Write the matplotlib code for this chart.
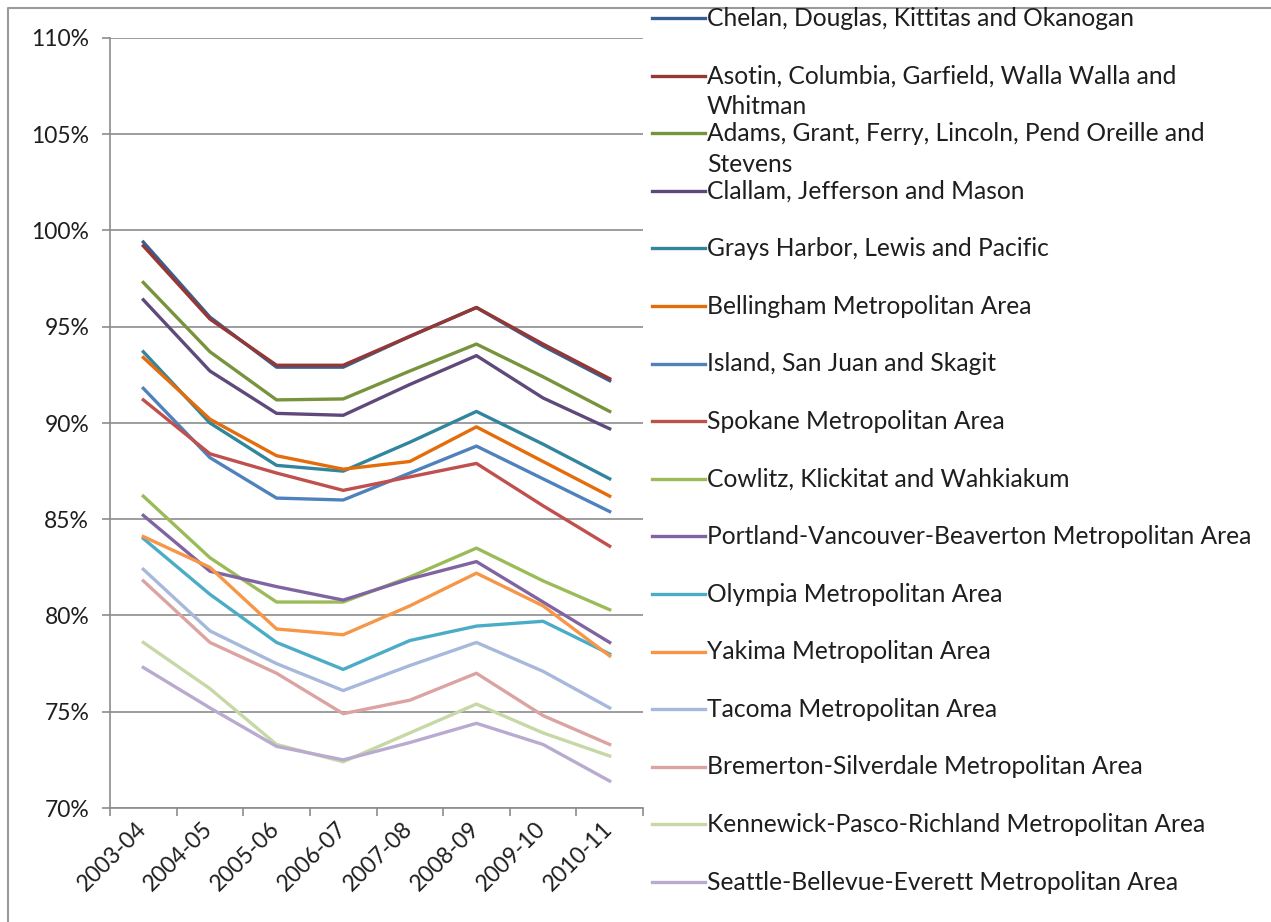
import matplotlib
matplotlib.use("Agg")
import matplotlib.pyplot as plt
from matplotlib.lines import Line2D
from matplotlib.ticker import FixedLocator, FuncFormatter
from matplotlib.transforms import ScaledTranslation

plt.rcParams["font.family"] = ["Lato", "DejaVu Sans"]

years = ["2003-04", "2004-05", "2005-06", "2006-07", "2007-08", "2008-09", "2009-10", "2010-11"]

# values in percent
chelan = [99.4, 95.5, 92.9, 92.9, 94.5, 96.0, 94.0, 92.2]
asotin = [99.2, 95.4, 93.0, 93.0, 94.5, 96.0, 94.1, 92.3]
adams = [97.3, 93.7, 91.2, 91.25, 92.7, 94.1, 92.4, 90.6]
clallam = [96.4, 92.7, 90.5, 90.4, 92.0, 93.5, 91.3, 89.7]
grays = [93.7, 90.0, 87.8, 87.5, 89.0, 90.6, 88.9, 87.1]
bellingham = [93.4, 90.2, 88.3, 87.6, 88.0, 89.8, 88.0, 86.2]
island = [91.8, 88.2, 86.1, 86.0, 87.4, 88.8, 87.1, 85.4]
spokane = [91.2, 88.4, 87.4, 86.5, 87.2, 87.9, 85.7, 83.6]
cowlitz = [86.2, 83.0, 80.7, 80.7, 82.0, 83.5, 81.8, 80.3]
portland = [85.2, 82.3, 81.5, 80.8, 81.9, 82.8, 80.7, 78.6]
olympia = [84.0, 81.1, 78.6, 77.2, 78.7, 79.45, 79.7, 78.0]
yakima = [84.1, 82.5, 79.3, 79.0, 80.5, 82.2, 80.5, 77.9]
tacoma = [82.4, 79.2, 77.5, 76.1, 77.4, 78.6, 77.1, 75.2]
bremerton = [81.8, 78.6, 77.0, 74.9, 75.6, 77.0, 74.8, 73.3]
kennewick = [78.6, 76.2, 73.3, 72.4, 73.9, 75.4, 73.9, 72.7]
seattle = [77.3, 75.2, 73.2, 72.5, 73.4, 74.4, 73.3, 71.4]

labels = [
    "Chelan, Douglas, Kittitas and Okanogan",
    "Asotin, Columbia, Garfield, Walla Walla and\nWhitman",
    "Adams, Grant, Ferry, Lincoln, Pend Oreille and\nStevens",
    "Clallam, Jefferson and Mason",
    "Grays Harbor, Lewis and Pacific",
    "Bellingham Metropolitan Area",
    "Island, San Juan and Skagit",
    "Spokane Metropolitan Area",
    "Cowlitz, Klickitat and Wahkiakum",
    "Portland-Vancouver-Beaverton Metropolitan Area",
    "Olympia Metropolitan Area",
    "Yakima Metropolitan Area",
    "Tacoma Metropolitan Area",
    "Bremerton-Silverdale Metropolitan Area",
    "Kennewick-Pasco-Richland Metropolitan Area",
    "Seattle-Bellevue-Everett Metropolitan Area",
]
series = [chelan, asotin, adams, clallam, grays, bellingham, island, spokane,
          cowlitz, portland, olympia, yakima, tacoma, bremerton, kennewick, seattle]
colors = ["#376092", "#953735", "#77933C", "#5F497A", "#31859C", "#E46C0A",
          "#4F81BD", "#C0504D", "#9BBB59", "#8064A2", "#4BACC6", "#F79646",
          "#A6B8DB", "#DBA3A2", "#C6D8A6", "#B8ABCF"]

W, H = 1271, 922
TEXT = "#1e1e1e"
GRID = "#8c8c8c"

fig = plt.figure(figsize=(W / 100, H / 100), dpi=100)
ax = fig.add_axes([110 / W, 1 - 808 / H, (643 - 110) / W, (808 - 38) / H])

x = list(range(len(years)))
for vals, col in zip(series, colors):
    ax.plot(x, vals, color=col, lw=2.4, solid_joinstyle="round", clip_on=False)

ax.set_xlim(-0.5, len(years) - 0.5)
ax.set_ylim(70, 110)
ax.yaxis.set_major_locator(FixedLocator(range(70, 111, 5)))
ax.yaxis.set_major_formatter(FuncFormatter(lambda v, _: f"{v:.0f}%"))
ax.grid(axis="y", color=GRID, lw=1.2)
ax.set_axisbelow(True)

ax.set_xticks(x)
ax.set_xticklabels(years, rotation=45, ha="right")
ax.set_xticks([i - 0.5 for i in range(len(years) + 1)], minor=True)
ax.tick_params(axis="x", which="major", length=0, pad=7, labelsize=16.5, labelcolor=TEXT)
ax.tick_params(axis="x", which="minor", length=6, width=1.2, color=GRID)
ax.tick_params(axis="y", length=6, width=1.2, color=GRID, pad=9, labelsize=16.5, labelcolor=TEXT)
shift = ScaledTranslation(7 / 100, 0, fig.dpi_scale_trans)
for lab in ax.get_xticklabels():
    lab.set_transform(lab.get_transform() + shift)

for side in ("top", "right"):
    ax.spines[side].set_visible(False)
for side in ("left", "bottom"):
    ax.spines[side].set_color(GRID)
    ax.spines[side].set_linewidth(1.2)

# legend, drawn by hand to keep Excel's even spacing with wrapped labels
for i, (lab, col) in enumerate(zip(labels, colors)):
    yc = 1 - (18 + 57.6 * i) / H
    fig.add_artist(Line2D([652 / W, 705 / W], [yc, yc], color=col, lw=2.4,
                          transform=fig.transFigure))
    for j, part in enumerate(lab.split("\n")):
        fig.text(707 / W, yc - 31 * j / H, part, fontsize=17.7, color=TEXT,
                 ha="left", va="center")

# chart border (top and left edges visible)
fig.add_artist(Line2D([8 / W, 8 / W, 1.0], [0.0, 1 - 8 / H, 1 - 8 / H], color="#9a9a9a",
                      lw=1.5, transform=fig.transFigure))

fig.savefig("out.png", dpi=100)
